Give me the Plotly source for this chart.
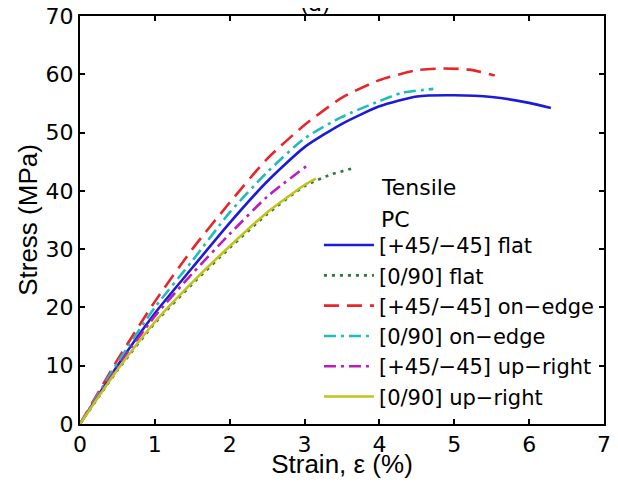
import plotly.graph_objects as go

# strain (%) / stress (MPa)
flat_4545_x = [0, 0.5, 1.0, 1.5, 2.0, 2.5, 3.0, 3.5, 4.0, 4.5, 5.0, 5.5, 6.0, 6.29]
flat_4545_y = [0, 10.0, 19.0, 26.8, 34.5, 41.6, 47.5, 51.5, 54.5, 56.2, 56.4, 56.1, 55.1, 54.2]

flat_090_x = [0, 0.5, 1.0, 1.5, 2.0, 2.5, 3.0, 3.35, 3.66]
flat_090_y = [0, 9.2, 17.3, 24.0, 30.2, 36.0, 40.8, 42.8, 43.9]

edge_4545_x = [0, 0.5, 1.0, 1.5, 2.0, 2.5, 3.0, 3.5, 4.0, 4.5, 4.85, 5.2, 5.54]
edge_4545_y = [0, 11.0, 21.0, 30.0, 38.0, 45.5, 51.3, 56.0, 59.0, 60.7, 61.0, 60.8, 59.8]

edge_090_x = [0, 0.5, 1.0, 1.5, 2.0, 2.5, 3.0, 3.5, 4.0, 4.3, 4.72]
edge_090_y = [0, 10.5, 20.0, 28.0, 36.3, 43.2, 49.0, 52.7, 55.4, 56.8, 57.5]

upright_4545_x = [0, 0.5, 1.0, 1.5, 2.0, 2.5, 3.02]
upright_4545_y = [0, 9.8, 18.5, 25.8, 32.6, 39.0, 44.2]

upright_090_x = [0, 0.5, 1.0, 1.5, 2.0, 2.5, 3.0, 3.15]
upright_090_y = [0, 9.3, 17.5, 24.3, 30.5, 36.3, 41.0, 42.1]

x_ticks = [0, 1, 2, 3, 4, 5, 6, 7]
y_ticks = [0, 10, 20, 30, 40, 50, 60, 70]

legend_heading = ["Tensile", "PC"]

FONT = "DejaVu Sans, sans-serif"
TITLE_FONT = "Liberation Sans, Arial, sans-serif"

series = [
    ("[+45/\u221245] flat", flat_4545_x, flat_4545_y, "#1c1cd6", "solid"),
    ("[0/90] flat", flat_090_x, flat_090_y, "#2a7a3a", "3px,5px"),
    ("[+45/\u221245] on\u2212edge", edge_4545_x, edge_4545_y, "#e8262a", "15px,8px"),
    ("[0/90] on\u2212edge", edge_090_x, edge_090_y, "#1fbcbc", "12px,5px,3px,5px"),
    ("[+45/\u221245] up\u2212right", upright_4545_x, upright_4545_y, "#bb1cbb", "12px,5px,3px,5px"),
    ("[0/90] up\u2212right", upright_090_x, upright_090_y, "#c2c21c", "solid"),
]

fig = go.Figure()

for name, xs, ys, color, dash in series:
    fig.add_trace(go.Scatter(x=xs, y=ys, name=name, mode="lines",
                             line=dict(color=color, width=2.6, dash=dash, shape="spline", smoothing=0.6)))

# page body has an 8px margin: keep the whole figure inside the 618x487 window
fig.update_layout(
    width=602,
    height=471,
    margin=dict(l=72, r=6, t=8, b=55, autoexpand=False),
    paper_bgcolor="white",
    plot_bgcolor="white",
    font=dict(family=FONT, size=22, color="black"),
    showlegend=True,
    legend=dict(
        x=0.456, xanchor="left",
        y=0.488, yanchor="top",
        bgcolor="rgba(255,255,255,0)",
        borderwidth=0,
        font=dict(family=FONT, size=21, color="black"),
        itemwidth=50,
        tracegroupgap=0,
    ),
)

for text, ypos in zip(legend_heading, [0.58, 0.502]):
    fig.add_annotation(text=text, x=0.570, y=ypos, xref="paper", yref="paper",
                       xanchor="left", yanchor="middle", showarrow=False,
                       font=dict(family=FONT, size=22, color="black"))

fig.add_annotation(text="(a)", x=0.45, xref="paper", y=1, yref="paper", xanchor="center",
                   yanchor="bottom", yshift=-2, showarrow=False,
                   font=dict(family=FONT, size=22, color="black"))

fig.update_xaxes(
    range=[0, 7], tickvals=x_ticks, showgrid=False, zeroline=False,
    showline=True, linecolor="black", linewidth=2, mirror="ticks",
    ticks="inside", ticklen=5, tickwidth=2, tickcolor="black",
    ticklabeloverflow="allow",
    title=dict(text="Strain, \u03b5 (%)", standoff=2, font=dict(family=TITLE_FONT, size=26)),
)
fig.update_yaxes(
    range=[0, 70], tickvals=y_ticks, showgrid=False, zeroline=False,
    showline=True, linecolor="black", linewidth=2, mirror="ticks",
    ticks="inside", ticklen=5, tickwidth=2, tickcolor="black",
    ticklabeloverflow="allow",
    title=dict(text="Stress (MPa)", standoff=0, font=dict(family=TITLE_FONT, size=26)),
)

fig.write_html("out.html")
